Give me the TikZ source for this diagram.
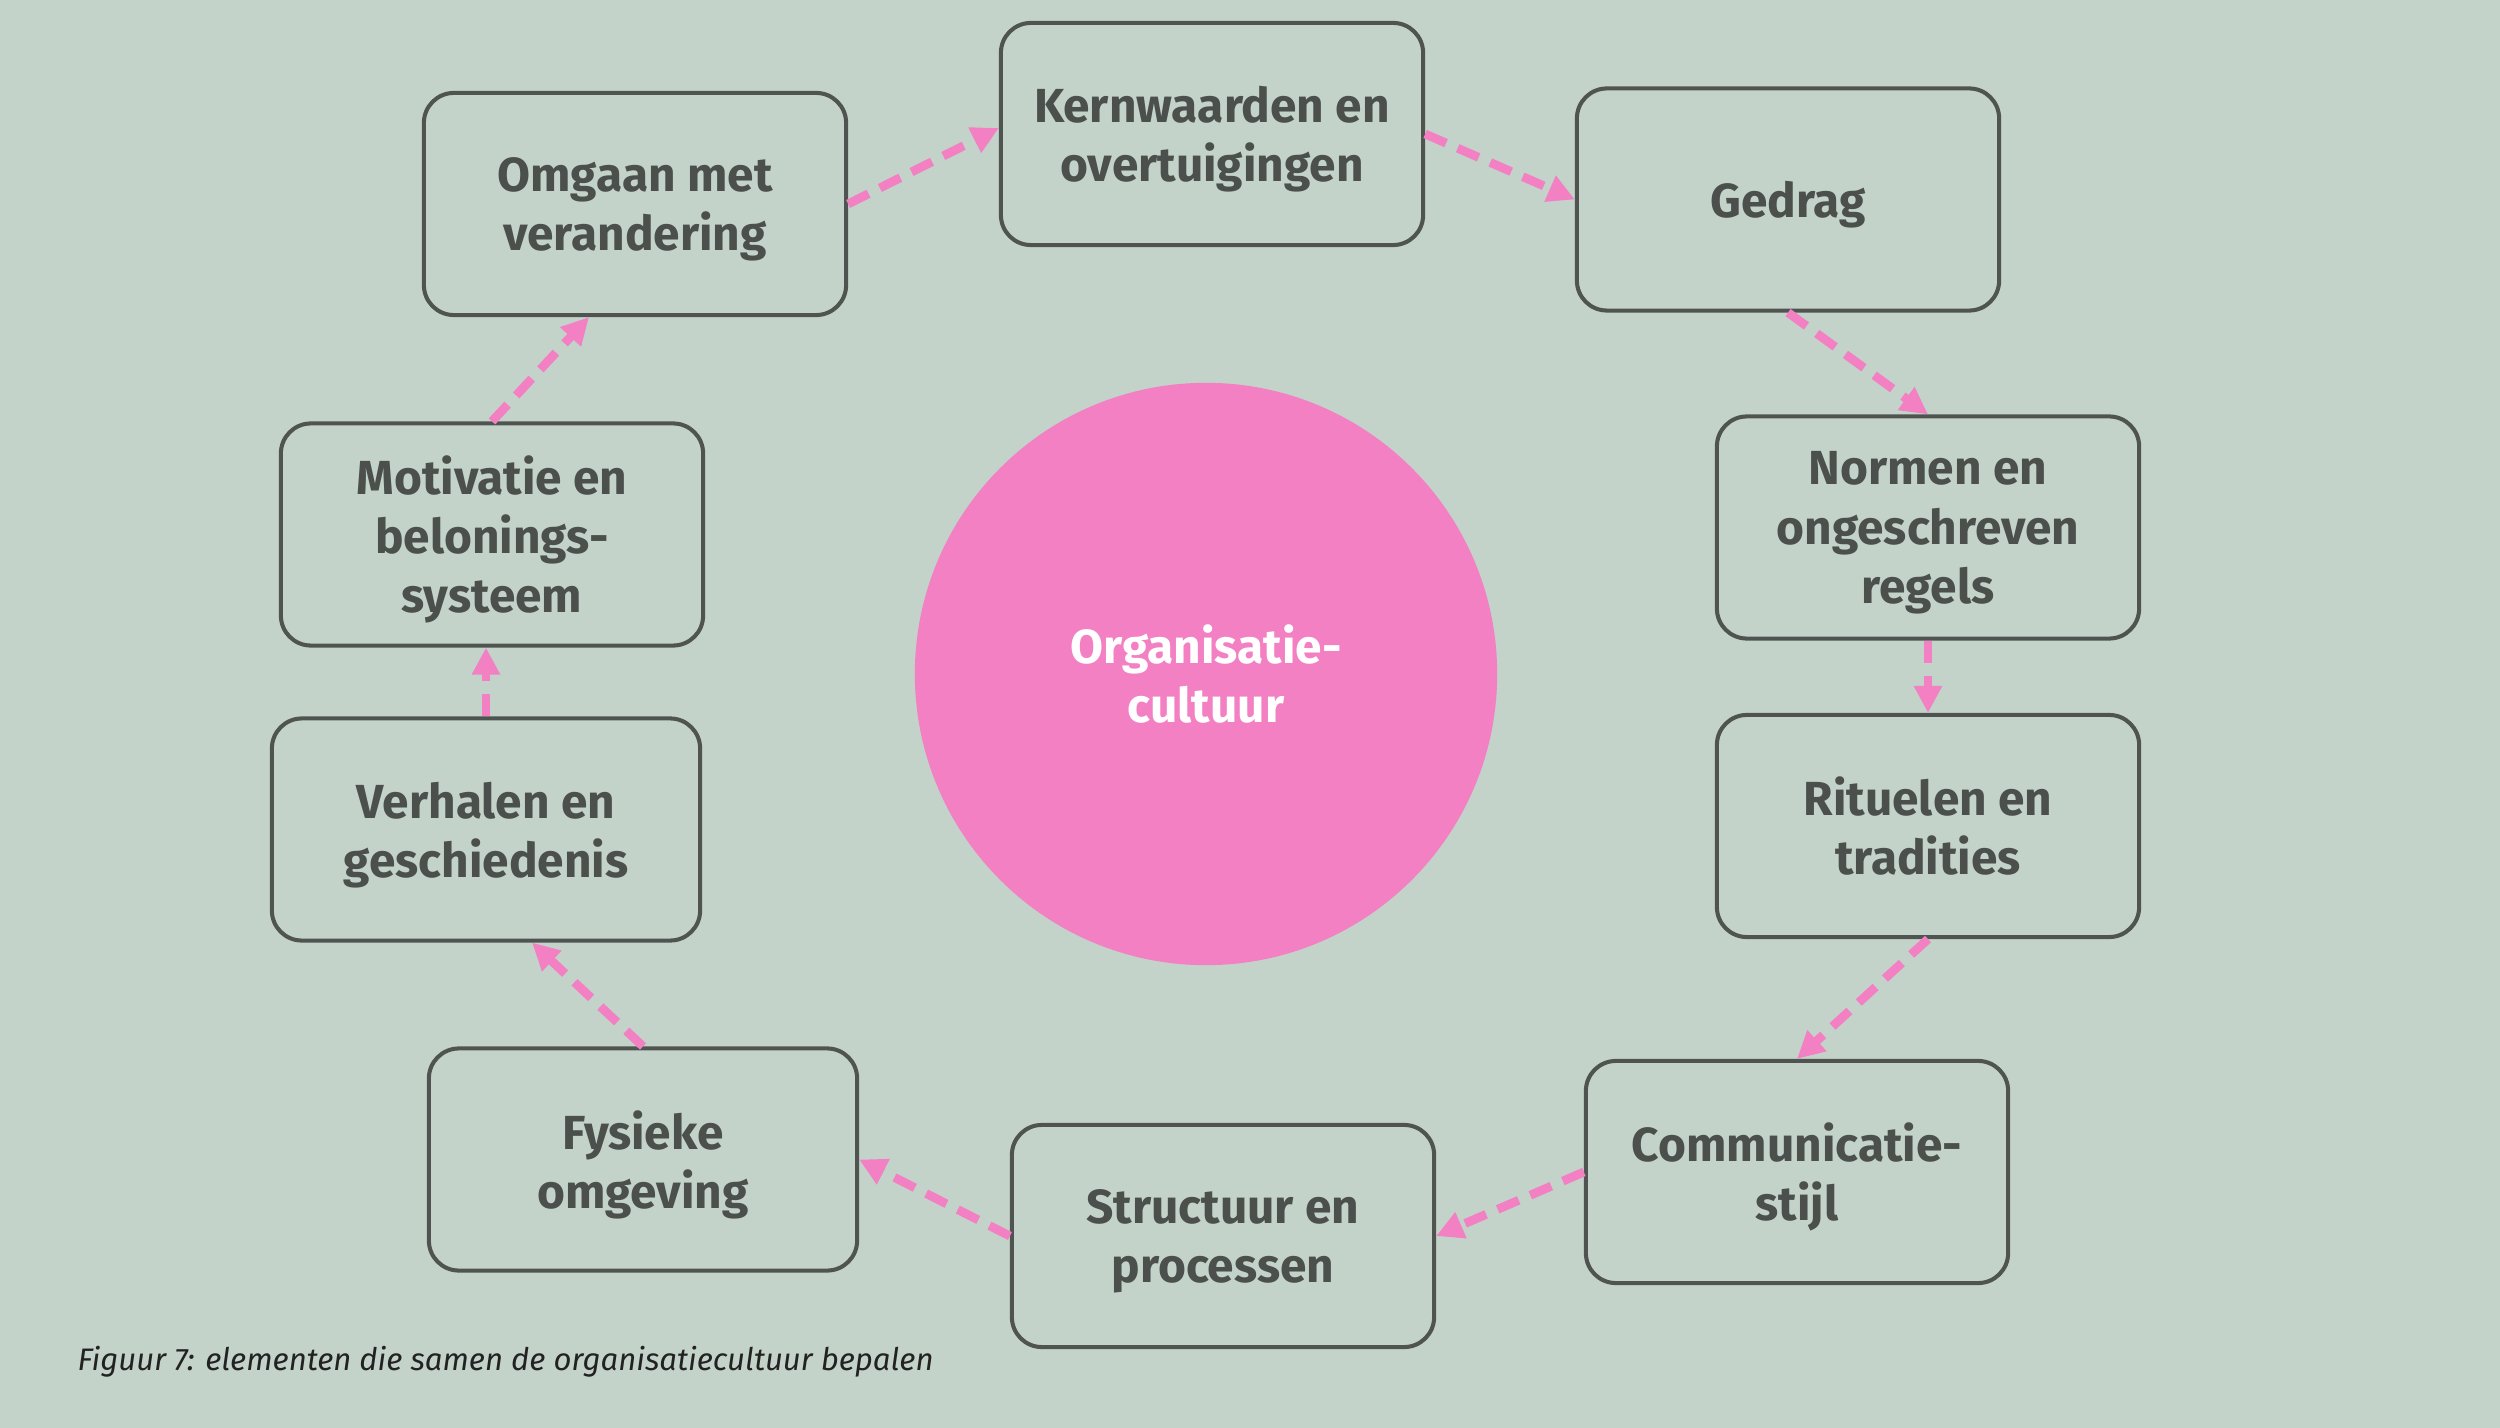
\documentclass[tikz,border=0pt]{standalone}
\usepackage{fontspec}
\setmainfont{Fira Sans}
\usetikzlibrary{arrows.meta}
\definecolor{bgc}{HTML}{C4D3CA}
\definecolor{pinkc}{HTML}{F280C3}
\definecolor{boxline}{HTML}{4F5451}
\definecolor{textc}{HTML}{4B504D}
\definecolor{capc}{HTML}{222222}
\tikzset{
  elbox/.style={draw=boxline, line width=1.15pt, rounded corners=0.3cm,
    minimum width=4.22cm, minimum height=2.22cm, align=center, text depth=0pt,
    text=textc, font=\bfseries\fontsize{13.6}{16.8}\selectfont, inner sep=0pt},
  core/.style={circle, fill=pinkc, minimum size=5.82cm, inner sep=0pt,
    align=center, text=white, font=\bfseries\fontsize{13.6}{16.8}\selectfont},
  flow/.style={draw=pinkc, line width=2.5pt, dash pattern=on 6.5pt off 3.6pt,
    -{Triangle[length=7.7pt,width=7.6pt]}},
  caption/.style={anchor=base west, inner sep=0pt, text=capc,
    font=\itshape\fontsize{8.85}{10}\selectfont}
}
\begin{document}
\begin{tikzpicture}[x=0.01cm,y=-0.01cm]
\fill[bgc] (0,0) rectangle (2500,1428);
\useasboundingbox (0,0) rectangle (2500,1428);
\node[core] (org) at (1206,674) {Organisatie-\\cultuur};
\node[elbox] (omg) at (635,204) {Omgaan met\\verandering};
\node[elbox] (kern) at (1212,134) {Kernwaarden en\\overtuigingen};
\node[elbox] (ged) at (1788,199.5) {Gedrag};
\node[elbox] (norm) at (1928,527.5) {Normen en\\ongeschreven\\regels};
\node[elbox] (rit) at (1928,826) {Rituelen en\\tradities};
\node[elbox] (comm) at (1797,1172) {Communicatie-\\stijl};
\node[elbox] (struc) at (1223,1236) {Structuur en\\processen};
\node[elbox, minimum width=4.28cm] (fys) at (643,1159.5) {Fysieke\\omgeving};
\node[elbox, minimum width=4.28cm] (verh) at (486,829.5) {Verhalen en\\geschiedenis};
\node[elbox] (mot) at (492,534.5) {Motivatie en\\belonings-\\systeem};
\node[caption] (cap) at (77,1370) {Figuur 7: elementen die samen de organisatiecultuur bepalen};
\draw[flow] (omg.east) -- ([yshift=0.06cm]kern.west);
\draw[flow] (kern.east) -- (ged.west);
\draw[flow] (ged.south) -- (norm.north);
\draw[flow] (norm.south) -- (rit.north);
\draw[flow] (rit.south) -- (comm.north);
\draw[flow] (comm.west) -- (struc.east);
\draw[flow] (struc.west) -- (fys.east);
\draw[flow] (fys.north) -- ([xshift=0.46cm]verh.south);
\draw[flow] (verh.north) -- (verh.north |- mot.south);
\draw[flow] (mot.north) -- ([xshift=-0.46cm]omg.south);
\end{tikzpicture}
\end{document}
